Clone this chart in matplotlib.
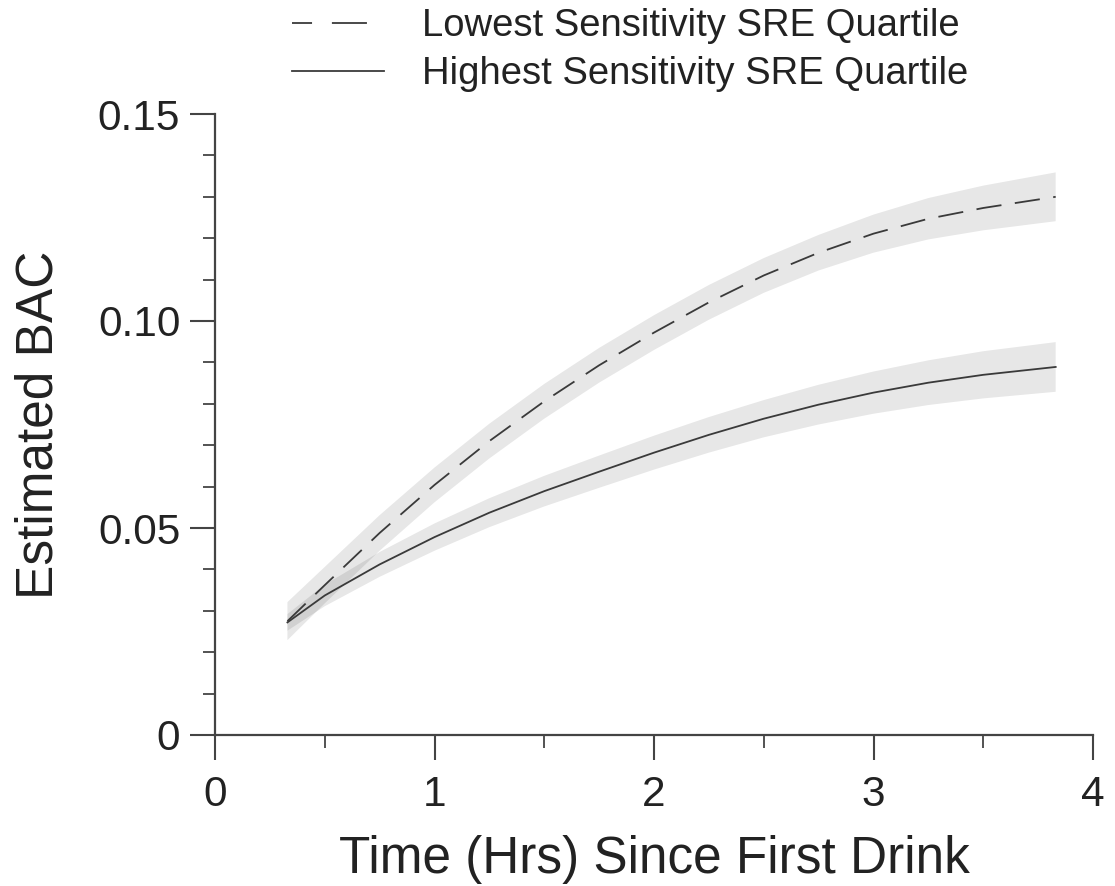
import matplotlib
matplotlib.use("Agg")
import matplotlib.pyplot as plt
from matplotlib.ticker import MultipleLocator, FixedLocator, FixedFormatter
from matplotlib.lines import Line2D
import numpy as np

plt.rcParams['font.family'] = ['Liberation Sans', 'DejaVu Sans']

hours = [0.33, 0.5, 0.75, 1.0, 1.25, 1.5, 1.75, 2.0, 2.25, 2.5, 2.75, 3.0, 3.25, 3.5, 3.83]
low_sens = [0.0275, 0.0362, 0.0488, 0.0604, 0.0710, 0.0806, 0.0893, 0.0972, 0.1045,
            0.1110, 0.1165, 0.1211, 0.1247, 0.1273, 0.1300]
low_half = [0.0046, 0.0044, 0.0043, 0.0042, 0.0042, 0.0042, 0.0042, 0.0042, 0.0042,
            0.0042, 0.0043, 0.0046, 0.0050, 0.0054, 0.0059]
high_sens = [0.0272, 0.0337, 0.0412, 0.0478, 0.0537, 0.0589, 0.0636, 0.0682, 0.0725,
             0.0764, 0.0798, 0.0827, 0.0851, 0.0870, 0.0889]
high_half = [0.0020, 0.0026, 0.0030, 0.0033, 0.0035, 0.0037, 0.0039, 0.0041, 0.0043,
             0.0045, 0.0048, 0.0051, 0.0054, 0.0057, 0.0060]
labels = ["Lowest Sensitivity SRE Quartile", "Highest Sensitivity SRE Quartile"]
yticks = [0, 0.05, 0.10, 0.15]
yticklabels = ["0", "0.05", "0.10", "0.15"]
xticks = [0, 1, 2, 3, 4]

fig = plt.figure(figsize=(11.15, 8.86), dpi=100)
ax = fig.add_axes([215/1115, (886-735)/886, (1093-215)/1115, (735-114)/886])

x = np.array(hours)
lo = np.array(low_sens); lh = np.array(low_half)
hi = np.array(high_sens); hh = np.array(high_half)

ax.fill_between(x, lo - lh, lo + lh, facecolor='black', alpha=0.095, linewidth=0)
ax.fill_between(x, hi - hh, hi + hh, facecolor='black', alpha=0.095, linewidth=0)
lc = '#3a3a3a'
ax.plot(x, lo, color=lc, lw=1.3, dashes=(14, 7.5))
ax.plot(x, hi, color=lc, lw=1.3)

ax.set_xlim(0, 4)
ax.set_ylim(0, 0.15)
for s in ['top', 'right']:
    ax.spines[s].set_visible(False)
for s in ['left', 'bottom']:
    ax.spines[s].set_linewidth(1.6)
    ax.spines[s].set_color('#444444')

ax.yaxis.set_major_locator(FixedLocator(yticks))
ax.yaxis.set_major_formatter(FixedFormatter(yticklabels))
ax.yaxis.set_minor_locator(MultipleLocator(0.01))
ax.xaxis.set_major_locator(FixedLocator(xticks))
ax.xaxis.set_minor_locator(MultipleLocator(0.5))
ax.tick_params(which='major', direction='out', length=18, width=1.5, color='#444444',
               labelsize=30.5, labelcolor='#222222')
ax.tick_params(which='minor', direction='out', length=9, width=1.3, color='#444444')
ax.tick_params(axis='y', which='major', pad=7)
ax.tick_params(axis='x', which='major', pad=11)
for t in ax.get_xticklabels():
    t.set_clip_on(False)

ax.set_xlabel("Time (Hrs) Since First Drink", fontsize=37, color='#222222', labelpad=14)
ax.set_ylabel("Estimated BAC", fontsize=37, color='#222222', labelpad=25)

handles = [Line2D([], [], color=lc, lw=1.3, linestyle=(8.3, (19.4, 11))),
           Line2D([], [], color=lc, lw=1.3)]
leg = fig.legend(handles, labels, loc='upper left',
                 bbox_to_anchor=(290/1115, 1.0 - 6/886),
                 frameon=False, fontsize=27.5, handlelength=2.4, handletextpad=1.0,
                 labelspacing=0.32, borderaxespad=0.0, borderpad=0.05,
                 labelcolor='#222222')

fig.savefig("out.png", dpi=100)
